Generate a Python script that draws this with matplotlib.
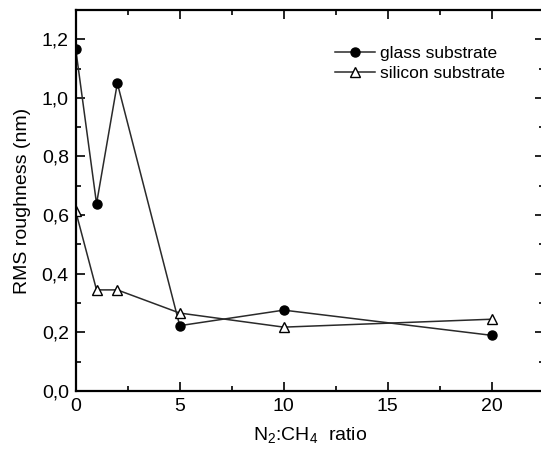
import numpy as np
import matplotlib
matplotlib.use('Agg')
import matplotlib.pyplot as plt
from matplotlib.ticker import MultipleLocator

plt.rcParams['font.family'] = ['Liberation Sans', 'DejaVu Sans']
plt.rcParams['mathtext.default'] = 'regular'

ratio   = [0, 1, 2, 5, 10, 20]
glass   = [1.166, 0.639, 1.05, 0.223, 0.276, 0.19]
silicon = [0.613, 0.345, 0.345, 0.266, 0.218, 0.245]


def comma(x, pos):
    return f"{x:.1f}".replace('.', ',')


fig = plt.figure(figsize=(5.41, 4.50), dpi=100)
ax = fig.add_axes([0.14, 0.131, 0.865, 0.847])

ax.plot(ratio, glass, '-o', color='#2a2a2a', lw=1.1, ms=6.5,
        mfc='black', mec='black', label='glass substrate')
ax.plot(ratio, silicon, '-^', color='#2a2a2a', lw=1.1, ms=7,
        mfc='white', mec='black', mew=1.0, label='silicon substrate')

ax.set_xlim(0, 22.5)
ax.set_ylim(0, 1.3)
ax.xaxis.set_major_locator(MultipleLocator(5))
ax.xaxis.set_minor_locator(MultipleLocator(2.5))
ax.yaxis.set_major_locator(MultipleLocator(0.2))
ax.yaxis.set_minor_locator(MultipleLocator(0.1))
ax.yaxis.set_major_formatter(plt.FuncFormatter(comma))

ax.tick_params(which='both', direction='in', top=True, right=True,
               labelsize=14, width=1.2)
ax.tick_params(which='major', length=6.5, pad=5)
ax.tick_params(which='minor', length=3.5)
for s in ax.spines.values():
    s.set_linewidth(1.6)

ax.set_xlabel('N$_2$:CH$_4$  ratio', fontsize=14, labelpad=7)
ax.set_ylabel('RMS roughness (nm)', fontsize=14, labelpad=8)

ax.legend(loc='upper left', bbox_to_anchor=(0.554, 0.905), frameon=False,
          fontsize=12.5, handlelength=2.3, handletextpad=0.3,
          labelspacing=0.25, borderpad=0, borderaxespad=0)

fig.savefig('out.png', dpi=100)
